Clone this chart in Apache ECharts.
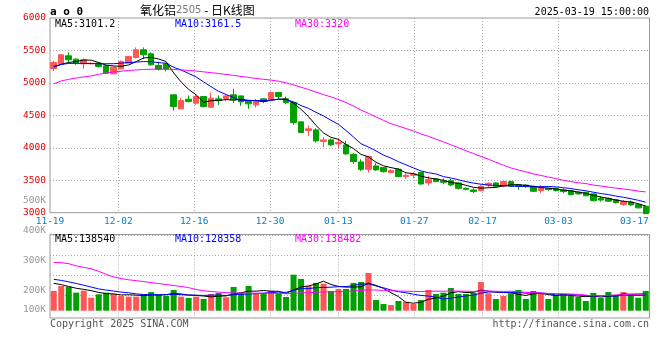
<!DOCTYPE html>
<html><head><meta charset="utf-8">
<script src="https://cdn.jsdelivr.net/npm/echarts@6/dist/echarts.min.js"></script>
<style>html,body{margin:0;padding:0;background:#fff}#c{width:660px;height:360px}</style>
</head><body><div id="c"></div>
<script>
const dates = ['2024-11-19','2024-11-20','2024-11-21','2024-11-22','2024-11-25','2024-11-26','2024-11-27','2024-11-28','2024-11-29',
'2024-12-02','2024-12-03','2024-12-04','2024-12-05','2024-12-06','2024-12-09','2024-12-10','2024-12-11','2024-12-12','2024-12-13','2024-12-16','2024-12-17','2024-12-18','2024-12-19','2024-12-20','2024-12-23','2024-12-24','2024-12-25','2024-12-26','2024-12-27','2024-12-30','2024-12-31',
'2025-01-02','2025-01-03','2025-01-06','2025-01-07','2025-01-08','2025-01-09','2025-01-10','2025-01-13','2025-01-14','2025-01-15','2025-01-16','2025-01-17','2025-01-20','2025-01-21','2025-01-22','2025-01-23','2025-01-24','2025-01-27',
'2025-02-05','2025-02-06','2025-02-07','2025-02-10','2025-02-11','2025-02-12','2025-02-13','2025-02-14','2025-02-17','2025-02-18','2025-02-19','2025-02-20','2025-02-21','2025-02-24','2025-02-25','2025-02-26','2025-02-27','2025-02-28',
'2025-03-03','2025-03-04','2025-03-05','2025-03-06','2025-03-07','2025-03-10','2025-03-11','2025-03-12','2025-03-13','2025-03-14','2025-03-17','2025-03-18','2025-03-19'];
const labelDates = ['2024-11-19','2024-12-02','2024-12-16','2024-12-30','2025-01-13','2025-01-27','2025-02-17','2025-03-03','2025-03-17'];

const open  = [5222,5294,5418,5366,5294,5295,5305,5263,5140,5217,5305,5392,5510,5449,5269,5294,4816,4600,4749,4688,
               4790,4626,4754,4760,4816,4800,4729,4662,4754,4739,4852,4754,4698,4400,4266,4276,4096,4122,4060,4045,
               3900,3782,3669,3721,3695,3618,3669,3556,3577,3622,3458,3520,3489,3494,3458,3376,3350,3340,3427,3458,
               3407,3479,3432,3427,3407,3340,3376,3376,3350,3340,3315,3315,3290,3220,3218,3200,3125,3165,3125,3100];
const close = [5315,5433,5356,5305,5356,5302,5253,5150,5243,5330,5408,5510,5433,5279,5212,5212,4636,4729,4713,4790,
               4636,4765,4729,4800,4739,4708,4677,4713,4713,4852,4790,4698,4389,4235,4292,4106,4122,4045,4081,3906,
               3788,3669,3865,3659,3633,3649,3556,3577,3597,3442,3509,3479,3469,3427,3376,3360,3325,3407,3453,3407,
               3479,3407,3407,3407,3330,3391,3355,3340,3325,3278,3290,3260,3185,3195,3178,3155,3172,3120,3075,2985];
const low   = [5180,5290,5305,5279,5217,5285,5238,5140,5135,5212,5300,5377,5366,5264,5192,5176,4574,4595,4698,4662,
               4620,4610,4662,4713,4688,4646,4600,4620,4688,4729,4754,4672,4353,4230,4183,4081,4009,4029,3993,3890,
               3752,3643,3618,3643,3618,3607,3546,3515,3530,3432,3417,3470,3437,3407,3355,3345,3304,3330,3391,3397,
               3391,3400,3355,3385,3325,3304,3340,3330,3299,3268,3280,3255,3175,3170,3165,3140,3105,3105,3065,2980];
const high  = [5340,5440,5469,5377,5377,5320,5320,5279,5250,5346,5415,5546,5546,5469,5330,5305,4816,4770,4806,4816,
               4800,4852,4806,4816,4908,4800,4729,4754,4765,4862,4862,4790,4700,4400,4343,4302,4163,4142,4147,4106,
               3916,3823,3875,3762,3695,3669,3685,3607,3623,3625,3571,3530,3530,3520,3468,3390,3376,3427,3468,3468,
               3494,3494,3442,3435,3415,3427,3385,3385,3376,3345,3330,3320,3300,3255,3235,3210,3195,3185,3130,3105];

const ma5  = [5245,5285,5315,5330,5353,5350,5314,5273,5261,5256,5277,5328,5385,5392,5368,5329,5154,5014,4900,4816,
              4701,4727,4727,4744,4734,4748,4731,4727,4710,4733,4749,4753,4688,4593,4481,4344,4229,4160,4129,4052,
              3988,3898,3862,3777,3723,3695,3672,3615,3602,3564,3536,3521,3499,3465,3452,3422,3391,3379,3384,3390,
              3414,3431,3431,3421,3406,3388,3378,3365,3348,3338,3318,3299,3268,3242,3222,3195,3177,3164,3140,3101.2];
const ma10 = [5255,5285,5300,5303,5300,5298,5296,5295,5296,5304,5314,5321,5329,5326,5312,5303,5241,5199,5146,5092,
              5015,4941,4870,4822,4775,4725,4729,4727,4727,4733,4749,4742,4708,4651,4607,4547,4491,4424,4361,4266,
              4166,4063,4011,3953,3887,3842,3785,3738,3690,3644,3616,3597,3557,3534,3508,3479,3456,3439,3425,3421,
              3418,3411,3405,3403,3398,3401,3404,3398,3385,3372,3353,3338,3316,3295,3280,3256,3238,3216,3191,3161.5];
const ma30 = [4985,5030,5055,5075,5092,5108,5132,5152,5168,5180,5192,5200,5207,5211,5212,5211,5207,5200,5192,5183,
              5170,5158,5145,5130,5115,5100,5085,5068,5055,5043,5026,5001,4969,4933,4898,4858,4820,4783,4745,4697,
              4643,4582,4530,4476,4423,4371,4335,4297,4259,4214,4177,4134,4092,4046,4001,3956,3911,3867,3825,3777,
              3733,3690,3658,3630,3598,3574,3549,3525,3500,3479,3462,3449,3426,3411,3395,3379,3366,3351,3333,3320];

const volume = [163000,204000,198000,149000,165000,107000,135000,149000,138000,121000,116000,116000,138000,154000,130000,121000,171000,116000,105000,116000,
                97000,138000,146000,111000,196000,149000,204000,144000,144000,163000,144000,113000,297000,262000,204000,229000,223000,163000,179000,179000,
                229000,237000,311000,88000,55000,47000,80000,74000,55000,88000,171000,138000,149000,187000,138000,138000,149000,237000,144000,97000,
                121000,144000,171000,97000,163000,138000,97000,130000,138000,121000,113000,80000,146000,105000,154000,130000,154000,138000,107000,163000];
const volMa5  = [226000,215000,200000,185000,176000,165000,151000,141000,139000,130000,132000,128000,126000,129000,131000,132000,143000,138000,129000,126000,
                 121000,114000,120000,122000,138000,148000,161000,161000,167000,161000,160000,142000,172000,196000,204000,221000,243000,216000,200000,195000,
                 195000,197000,227000,209000,184000,148000,116000,69000,62000,69000,94000,105000,120000,147000,157000,150000,152000,170000,161000,153000,
                 150000,149000,135000,126000,139000,143000,133000,125000,133000,125000,120000,116000,120000,113000,120000,123000,138000,136000,137000,138540];
const volMa10 = [259000,250000,238000,225000,210000,195000,180000,170000,162000,153000,148000,139000,133000,134000,130000,132000,135000,132000,129000,128000,
                 126000,129000,129000,125000,132000,135000,138000,141000,145000,149000,154000,151000,167000,182000,182000,190000,192000,194000,198000,199000,
                 208000,220000,222000,204000,189000,171000,157000,148000,136000,126000,121000,111000,95000,104000,113000,122000,129000,145000,154000,155000,
                 150000,150000,153000,144000,146000,146000,141000,130000,130000,132000,131000,125000,122000,123000,122000,121000,127000,128000,125000,128358];
const volMa30 = [398000,396000,388000,370000,358000,345000,325000,300000,278000,265000,255000,248000,240000,232000,224000,216000,208000,200000,190000,175000,
                 165000,158000,153000,149000,147000,145000,144000,144000,144000,143500,142800,139800,143100,146900,148200,152200,155200,155600,157000,158900,
                 162700,166700,172500,170300,167800,165300,162300,160900,159200,158300,160800,160800,160900,163400,161500,161100,159300,162400,162400,160200,
                 159400,160400,156200,150700,149400,146300,142100,141000,139700,137700,133900,128600,123100,123700,127000,129800,132200,134400,136100,138482];

const priceMin = 3000, priceMax = 6000, priceStep = 500;
const volLabelMin = 100000, volLabelMax = 500000, volLabelStep = 100000;

const MONO = '"DejaVu Sans Mono","Liberation Mono",monospace';
const UP = '#ff5555', DOWN = '#00a000';
const GRIDC = '#aaaaaa', FRAMEC = '#999999';
const last = dates.length - 1;
const gridDates = labelDates.slice(1, -1);
const showLabel = (i, v) => labelDates.indexOf(v) >= 0;
const showGrid = (i, v) => gridDates.indexOf(v) >= 0;

const candleData = dates.map((d, i) => [open[i], close[i], low[i], high[i]]);
const volData = volume.map((v, i) => ({ value: v, itemStyle: { color: close[i] >= open[i] ? UP : DOWN } }));

const dotted = { color: GRIDC, width: 1, type: [1, 2] };
const lineS = (name, data, color, xi, yi) => ({
  type: 'line', name, data, xAxisIndex: xi, yAxisIndex: yi, showSymbol: false, symbol: 'none',
  silent: true, lineStyle: { color, width: 1 }, z: 5
});

const txt = (x, y, text, fill, align, font) => ({
  type: 'text', x, y, z: 100, silent: true,
  style: { text, fill, font: font || ('10px ' + MONO), align: align || 'left', verticalAlign: 'middle' }
});

const chart = echarts.init(document.getElementById('c'));
chart.setOption({
  animation: false,
  backgroundColor: '#fff',
  grid: [
    { left: 50, top: 18, width: 599.5, height: 194.7, show: true, borderColor: FRAMEC, borderWidth: 1 },
    { left: 50, top: 234.5, width: 599.5, height: 76.2, show: false },
    { left: 50, top: 234.5, width: 599.5, height: 83.5, show: true, borderColor: FRAMEC, borderWidth: 1 },
    { left: 50, top: 235.6, width: 599.5, height: 59.7, show: false },
    { left: 50, top: 200.7, width: 599.5, height: 120, show: false }
  ],
  xAxis: [
    { type: 'category', gridIndex: 0, data: dates, boundaryGap: true, show: false, position: 'top' },
    { type: 'category', gridIndex: 0, data: dates, boundaryGap: false, position: 'bottom',
      axisLine: { show: false }, axisTick: { show: false },
      axisLabel: { interval: showLabel, formatter: v => v.slice(5), color: '#0a80cc', fontFamily: MONO, fontSize: 9.5, margin: 4 },
      splitLine: { show: true, interval: showGrid, lineStyle: dotted } },
    { type: 'category', gridIndex: 1, data: dates, boundaryGap: true, show: false },
    { type: 'category', gridIndex: 2, data: dates, boundaryGap: false,
      axisLine: { show: false }, axisTick: { show: false }, axisLabel: { show: false },
      splitLine: { show: true, interval: showGrid, lineStyle: dotted } },
    { type: 'category', gridIndex: 3, data: dates, show: false },
    { type: 'category', gridIndex: 4, data: dates, show: false }
  ],
  yAxis: [
    { type: 'value', gridIndex: 0, min: priceMin, max: priceMax, interval: priceStep,
      axisLine: { show: false }, axisTick: { show: false },
      axisLabel: { color: '#e00000', fontFamily: MONO, fontSize: 9.5, margin: 4, padding: [0, 0, 3, 0], formatter: v => String(v) },
      splitLine: { show: true, showMinLine: false, showMaxLine: false, lineStyle: dotted } },
    { type: 'value', gridIndex: 1, min: 0, max: 628650, show: false },
    { type: 'value', gridIndex: 2, min: 0, max: 1, show: false },
    { type: 'value', gridIndex: 3, min: 0, max: 3, interval: 1,
      axisLine: { show: false }, axisTick: { show: false }, axisLabel: { show: false },
      splitLine: { show: true, lineStyle: dotted } },
    { type: 'value', gridIndex: 4, min: volLabelMin, max: volLabelMax, interval: volLabelStep,
      axisLine: { show: false }, axisTick: { show: false }, splitLine: { show: false },
      axisLabel: { color: '#999', fontFamily: MONO, fontSize: 9.5, margin: 4,
        formatter: v => v === volLabelMin ? '{lo|' + (v / 1000) + 'K}' : (v / 1000) + 'K',
        rich: { lo: { color: '#999', fontFamily: MONO, fontSize: 9.5, padding: [0, 0, 23, 0] } } } }
  ],
  series: [
    { type: 'candlestick', data: candleData, xAxisIndex: 0, yAxisIndex: 0, barWidth: 6, clip: false, silent: true,
      itemStyle: { color: UP, color0: DOWN, borderColor: UP, borderColor0: DOWN, borderWidth: 1 }, z: 3 },
    lineS('MA5', ma5, '#000000', 0, 0),
    lineS('MA10', ma10, '#0000ff', 0, 0),
    lineS('MA30', ma30, '#ff00ff', 0, 0),
    { type: 'bar', data: volData, xAxisIndex: 2, yAxisIndex: 1, barWidth: 6, silent: true, z: 3 },
    lineS('VMA5', volMa5, '#000000', 2, 1),
    lineS('VMA10', volMa10, '#0000ff', 2, 1),
    lineS('VMA30', volMa30, '#ff00ff', 2, 1)
  ],
  graphic: [
    txt(50, 12, 'a o 0', '#000', 'left', 'bold 11px ' + MONO),
    { type: 'text', x: 140, y: 10, z: 100, silent: true,
      style: { text: '{a|氧化铝}{b|2505}{a| - }{a|日K线图}', verticalAlign: 'middle', align: 'left',
        rich: { a: { fontFamily: '"Noto Sans CJK SC"', fontSize: 12, fill: '#000', color: '#000' },
                b: { fontFamily: '"DejaVu Sans"', fontSize: 10, fill: '#777', color: '#777' } } } },
    txt(649, 12, '2025-03-19 15:00:00', '#000', 'right'),
    txt(55, 24, 'MA5:' + ma5[last], '#000'),
    txt(175, 24, 'MA10:' + ma10[last], '#0000ff'),
    txt(295, 24, 'MA30:' + ma30[last], '#ff00ff'),
    txt(55, 239, 'MA5:' + volMa5[last], '#000'),
    txt(175, 239, 'MA10:' + volMa10[last], '#0000ff'),
    txt(295, 239, 'MA30:' + volMa30[last], '#ff00ff'),
    txt(50, 324, 'Copyright 2025 SINA.COM', '#555'),
    txt(649, 324, 'http://finance.sina.com.cn', '#555', 'right')
  ]
});
</script>
</body></html>
